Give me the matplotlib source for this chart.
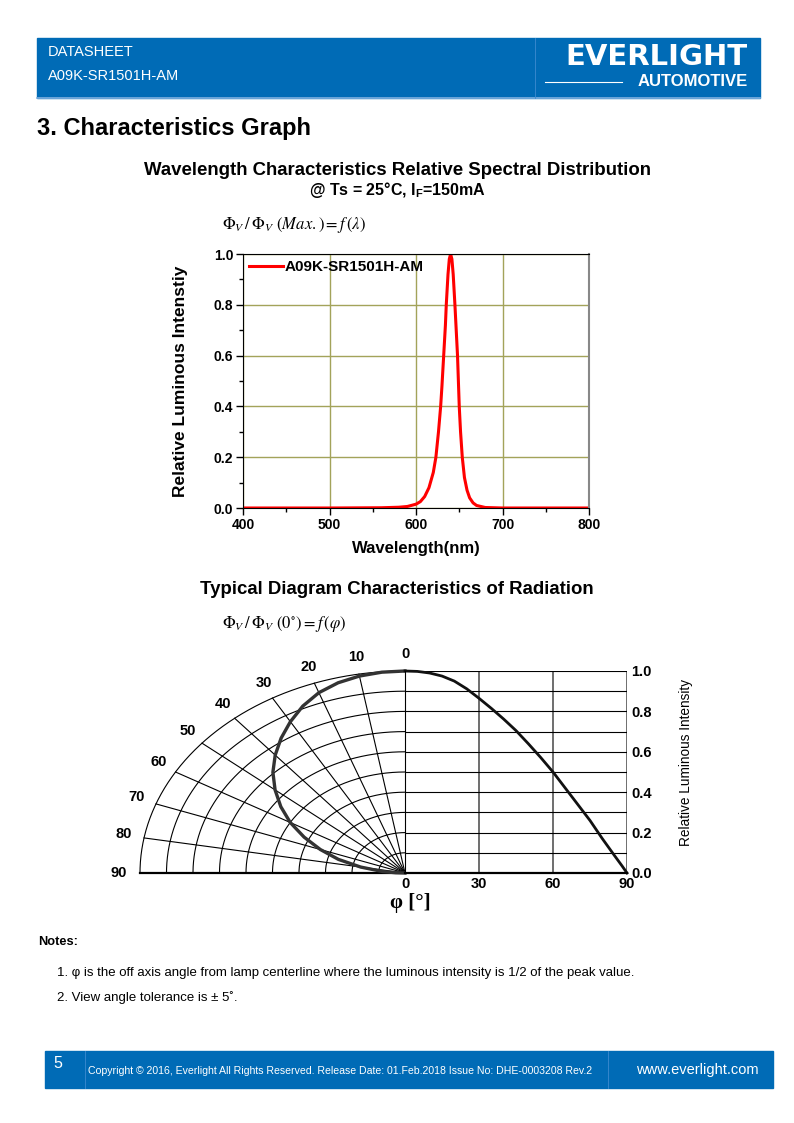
import numpy as np
import matplotlib.pyplot as plt
from matplotlib.patches import Rectangle

plt.rcParams['font.family'] = ['Liberation Sans', 'DejaVu Sans']
plt.rcParams['mathtext.fontset'] = 'custom'
plt.rcParams['mathtext.rm'] = 'Liberation Sans:bold'
plt.rcParams['mathtext.bf'] = 'Liberation Sans:bold'

# spectral distribution
wavelength = [400, 500, 560, 580, 590, 600, 605, 610, 615, 620, 623, 626, 628.5, 630, 632,
              634, 635, 637, 638.5, 640, 641.5, 643, 645, 646.5, 648, 649, 650, 651.5, 653.5,
              656, 659, 662, 666, 670, 680, 700, 800]
rel_intensity = [0, 0, 0.001, 0.003, 0.006, 0.015, 0.025, 0.045, 0.08, 0.14, 0.2, 0.3, 0.4, 0.48, 0.6,
                 0.72, 0.8, 0.92, 0.98, 1.0, 0.98, 0.92, 0.8, 0.7, 0.6, 0.5, 0.4, 0.3, 0.2,
                 0.12, 0.07, 0.04, 0.02, 0.01, 0.002, 0, 0]
spec_xticks = [400, 500, 600, 700, 800]
spec_yticks = [0.0, 0.2, 0.4, 0.6, 0.8, 1.0]

# radiation diagram
angle = [0, 5, 10, 15, 20, 25, 30, 35, 40, 45, 50, 55, 60, 65, 70, 75, 80, 85, 88, 90]
rad_intensity = [1.0, 0.998, 0.99, 0.975, 0.95, 0.912, 0.865, 0.815, 0.762, 0.705, 0.64, 0.572,
                 0.5, 0.42, 0.34, 0.26, 0.17, 0.085, 0.035, 0.0]
polar_angles = [0, 10, 20, 30, 40, 50, 60, 70, 80, 90]
rings = [0.1, 0.2, 0.3, 0.4, 0.5, 0.6, 0.7, 0.8, 0.9, 1.0]
rad_xticks = [0, 30, 60, 90]
rad_yticks = [0.0, 0.2, 0.4, 0.6, 0.8, 1.0]

W, H = 794, 1123
blue = '#006bb6'


def fx(x):
    return x / W


def fy(y):
    return 1 - y / H


fig = plt.figure(figsize=(W / 100, H / 100), dpi=100)

# header band
fig.patches.append(Rectangle((fx(37), fy(98)), (760 - 37) / W, 60 / H,
                             transform=fig.transFigure, color=blue, zorder=0))
fig.add_artist(plt.Line2D([fx(37), fx(760)], [fy(98), fy(98)], color='#7fb0e0', lw=1.2))
fig.add_artist(plt.Line2D([fx(535), fx(535)], [fy(38), fy(98)], color='#3d8bd0', lw=0.6))
fig.text(fx(48), fy(52), 'DATASHEET', color='white', fontsize=10.5, va='center')
fig.text(fx(48), fy(76), 'A09K-SR1501H-AM', color='white', fontsize=10.5, va='center')
fig.text(fx(748), fy(57), 'EVERLIGHT', color='white', fontsize=21, fontweight='bold',
         ha='right', va='center', family=['DejaVu Sans'])
fig.text(fx(748), fy(82), 'AUTOMOTIVE', color='white', fontsize=12, fontweight='bold',
         ha='right', va='center')
fig.add_artist(plt.Line2D([fx(545), fx(622)], [fy(82), fy(82)], color='white', lw=0.8))

fig.text(fx(37), fy(128), '3. Characteristics Graph', fontsize=17, fontweight='bold',
         va='center')

# spectral chart
fig.text(fx(397), fy(171), 'Wavelength Characteristics Relative Spectral Distribution',
         fontsize=13.4, fontweight='bold', ha='center', va='center')
fig.text(fx(397), fy(190), r'@ Ts = 25°C, I$_\mathbf{F}$=150mA', fontsize=11.5,
         fontweight='bold', ha='center', va='center')
fig.text(fx(222), fy(225), r'$\Phi_V\,/\,\Phi_V\ (Max.) = f\,(\lambda)$', fontsize=12,
         va='center', math_fontfamily='stix')

ax = fig.add_axes([fx(243), fy(508), 346 / W, 254 / H])
ax.plot(wavelength, rel_intensity, color='red', lw=2.2, label='A09K-SR1501H-AM')
ax.set_xlim(400, 800)
ax.set_ylim(0, 1)
ax.set_xticks(spec_xticks)
ax.set_xticks([450, 550, 650, 750], minor=True)
ax.set_yticks(spec_yticks)
ax.set_yticks([0.1, 0.3, 0.5, 0.7, 0.9], minor=True)
ax.set_yticklabels(['%.1f' % v for v in spec_yticks])
ax.grid(which='major', color='#a3a35a', lw=1.0)
ax.set_axisbelow(True)
ax.tick_params(which='major', direction='out', length=5, width=1, labelsize=10, pad=2)
ax.tick_params(which='minor', direction='out', length=3, width=1)
for lab in ax.get_xticklabels() + ax.get_yticklabels():
    lab.set_fontweight('bold')
ax.spines['right'].set_color('#888888')
ax.spines['right'].set_linewidth(1.5)
leg = ax.legend(loc='upper left', frameon=False, handlelength=2.2, handletextpad=0.1,
                borderaxespad=0.1, borderpad=0.3, prop={'weight': 'bold', 'size': 11})
fig.text(fx(181), fy(381), 'Relative Luminous Intenstiy', rotation=90, fontsize=12.5,
         fontweight='bold', ha='center', va='center')
fig.text(fx(416), fy(549), 'Wavelength(nm)', fontsize=12, fontweight='bold',
         ha='center', va='center')

# radiation diagram
fig.text(fx(397), fy(590), 'Typical Diagram Characteristics of Radiation',
         fontsize=13.4, fontweight='bold', ha='center', va='center')
fig.text(fx(222), fy(624), r'$\Phi_V\,/\,\Phi_V\ (0^{\circ}) = f\,(\varphi)$', fontsize=12,
         va='center', math_fontfamily='stix')

# left half: polar grid squeezed into an ellipse
ax2 = fig.add_axes([fx(140), fy(873), 265 / W, 202 / H])
ax2.set_xlim(-1, 0)
ax2.set_ylim(0, 1)
ax2.axis('off')
t = np.linspace(0, np.pi / 2, 200)
for r in rings:
    ax2.plot(-r * np.sin(t), r * np.cos(t), color='black', lw=0.8, clip_on=False)
for a in polar_angles[1:-1]:
    ar = np.radians(a)
    ax2.plot([0, -np.sin(ar)], [0, np.cos(ar)], color='black', lw=0.8, clip_on=False)
ax2.plot([-1, 0], [0, 0], color='black', lw=1.6, clip_on=False)
ang_r = np.radians(angle)
v = np.array(rad_intensity)
ax2.plot(-v * np.sin(ang_r), v * np.cos(ang_r), color='#333333', lw=2.4, clip_on=False)
for a in polar_angles:
    ar = np.radians(a)
    nx, ny = np.sin(ar) / 265, np.cos(ar) / 202
    n = np.hypot(nx, ny)
    ax2.annotate(str(a), (-np.sin(ar), np.cos(ar)), xytext=(-17 * nx / n - 4 * np.sin(ar), 17 * ny / n),
                 textcoords='offset pixels', ha='center', va='center', fontsize=10.5,
                 fontweight='bold', annotation_clip=False)

# right half: intensity vs angle
ax3 = fig.add_axes([fx(405), fy(873), 222 / W, 202 / H])
ax3.plot(angle, rad_intensity, color='#111111', lw=2.0, clip_on=False)
ax3.set_xlim(0, 90)
ax3.set_ylim(0, 1)
ax3.set_xticks(rad_xticks)
ax3.set_yticks(rad_yticks)
ax3.set_yticks([0.1, 0.3, 0.5, 0.7, 0.9], minor=True)
ax3.set_yticklabels(['%.1f' % v for v in rad_yticks])
ax3.yaxis.tick_right()
ax3.tick_params(which='both', length=0, labelsize=10.5, pad=3)
for lab in ax3.get_xticklabels() + ax3.get_yticklabels():
    lab.set_fontweight('bold')
ax3.grid(which='major', axis='x', color='#555555', lw=1.2)
ax3.grid(which='both', axis='y', color='black', lw=0.8)
for s in ['top', 'right']:
    ax3.spines[s].set_visible(False)
ax3.spines['left'].set_linewidth(0.8)
ax3.spines['bottom'].set_linewidth(1.6)
fig.text(fx(686), fy(762), 'Relative Luminous Intensity', rotation=90, fontsize=9.8,
         ha='center', va='center')
fig.text(fx(410), fy(903), 'φ [°]', fontsize=15, fontweight='bold', ha='center',
         va='center', family=['Liberation Serif', 'DejaVu Serif'])

# notes
fig.text(fx(38), fy(942), 'Notes:', fontsize=9.2, fontweight='bold', va='center')
fig.text(fx(57), fy(973), '1. φ is the off axis angle from lamp centerline where the luminous '
         'intensity is 1/2 of the peak value.', fontsize=9.5, va='center')
fig.text(fx(57), fy(998), '2. View angle tolerance is ± 5˚.', fontsize=9.5, va='center')

# footer band
fig.patches.append(Rectangle((fx(45), fy(1088)), (773 - 45) / W, 37 / H,
                             transform=fig.transFigure, color=blue, zorder=0))
fig.add_artist(plt.Line2D([fx(85), fx(85)], [fy(1051), fy(1088)], color='#3d8bd0', lw=0.6))
fig.add_artist(plt.Line2D([fx(608), fx(608)], [fy(1051), fy(1088)], color='#3d8bd0', lw=0.6))
fig.text(fx(53), fy(1064), '5', color='white', fontsize=11.5, va='center')
fig.text(fx(88), fy(1071), 'Copyright © 2016, Everlight All Rights Reserved. Release Date: '
         '01.Feb.2018 Issue No: DHE-0003208 Rev.2', color='white', fontsize=7.6, va='center')
fig.text(fx(636), fy(1070), 'www.everlight.com', color='white', fontsize=10.5, va='center')

fig.savefig('out.png', dpi=100)
